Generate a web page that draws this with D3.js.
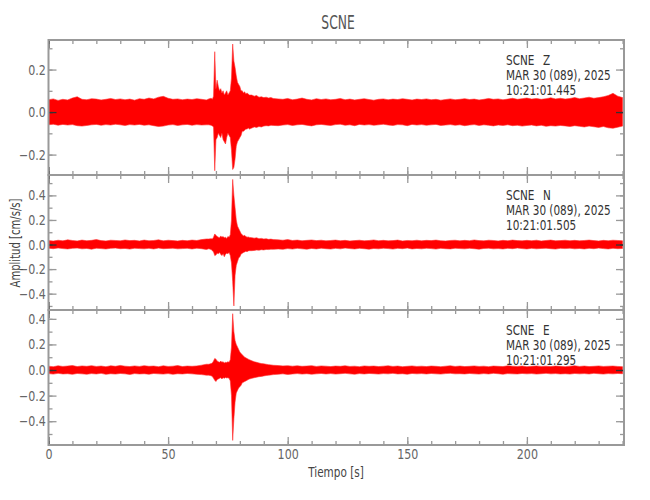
<!DOCTYPE html>
<html>
<head>
<meta charset="utf-8">
<script src="https://cdn.jsdelivr.net/npm/d3@7"></script>
<style>
body{margin:0;background:#fff;}
text{font-family:"Liberation Sans Narrow","DejaVu Sans Condensed","Liberation Sans",sans-serif;}
</style>
</head>
<body>
<script>
const w=650;
const h=500;

// tiempo de cada muestra del envolvente (s)
const tiempo=[0,2,4,6,8,10,12,14,16,18,20,22,24,26,28,30,32,34,36,38,40,42,44,46,48,50,52,54,56,58,60,62,64,66,
  67,68,68.5,69,69.5,70,70.5,71,71.5,72,72.5,73,73.5,74,74.5,75,75.5,76,76.5,77,77.5,78,78.5,79,79.5,80,80.5,81,81.5,82,82.5,83,83.5,84,
  85,86,87,88,89,90,91,92,93,94,
  96,98,100,102,104,106,108,110,112,114,116,118,120,122,124,126,128,130,132,134,136,138,140,142,144,146,148,150,152,154,156,158,160,162,164,166,
  168,170,172,174,176,178,180,182,184,186,188,190,192,194,196,198,200,202,204,206,208,210,212,214,216,218,220,222,224,226,228,230,232,234,236,238,240];

// componente Z: maximo y minimo de la senal (cm/s/s)
const zSup=[.058,.062,.055,.060,.057,.066,.072,.060,.058,.063,.061,.057,.060,.064,.059,.062,.058,.061,.056,.063,.060,.066,.062,.070,.074,.065,.060,.062,.058,.061,.059,.063,.060,.057,
  .062,.065,.060,.075,.284,.110,.150,.120,.100,.110,.090,.100,.080,.090,.100,.080,.090,.100,.160,.320,.240,.210,.170,.140,.130,.120,.100,.100,.090,.095,.085,.090,.085,.080,
  .080,.075,.078,.070,.072,.068,.070,.066,.068,.064,
  .062,.060,.064,.058,.061,.066,.060,.057,.063,.059,.062,.058,.060,.064,.058,.061,.057,.060,.063,.059,.056,.060,.062,.058,.061,.059,.063,.060,.057,.061,
  .059,.062,.058,.060,.056,.059,.062,.058,.060,.063,.059,.061,.057,.060,.064,.060,.062,.058,.061,.065,.060,.063,.066,.061,.064,.060,.063,.067,.062,.065,
  .061,.064,.068,.063,.066,.070,.065,.068,.072,.078,.088,.075,.068];
const zInf=[-.060,-.057,-.062,-.058,-.061,-.059,-.064,-.066,-.063,-.060,-.058,-.062,-.059,-.061,-.057,-.060,-.063,-.059,-.061,-.058,-.062,-.060,-.064,-.068,-.066,-.061,-.059,-.063,-.060,-.058,-.062,-.059,-.061,-.060,
  -.060,-.062,-.065,-.070,-.276,-.130,-.120,-.100,-.110,-.120,-.100,-.130,-.140,-.150,-.120,-.100,-.110,-.120,-.180,-.270,-.260,-.220,-.160,-.140,-.130,-.120,-.110,-.090,-.090,-.085,-.080,-.080,-.075,-.080,
  -.075,-.070,-.072,-.068,-.070,-.066,-.064,-.065,-.062,-.063,
  -.064,-.061,-.059,-.063,-.060,-.058,-.062,-.065,-.060,-.058,-.061,-.063,-.059,-.057,-.062,-.060,-.064,-.058,-.061,-.059,-.062,-.060,-.057,-.061,-.063,-.059,-.060,-.064,-.058,-.061,
  -.059,-.062,-.060,-.058,-.063,-.061,-.059,-.062,-.060,-.064,-.061,-.059,-.063,-.060,-.062,-.065,-.061,-.063,-.060,-.064,-.062,-.066,-.063,-.061,-.065,-.062,-.067,-.064,-.066,-.063,
  -.065,-.068,-.064,-.067,-.070,-.066,-.069,-.072,-.068,-.074,-.076,-.071,-.066];

// componente N
const nSup=[.032,.028,.035,.030,.038,.033,.029,.036,.031,.034,.040,.032,.029,.035,.033,.030,.037,.032,.034,.029,.036,.031,.033,.038,.030,.035,.032,.029,.034,.031,.036,.033,.040,.045,
  .045,.048,.045,.060,.086,.075,.065,.060,.055,.070,.060,.065,.055,.060,.050,.065,.060,.080,.200,.530,.400,.300,.200,.150,.130,.110,.090,.080,.070,.075,.065,.060,.062,.058,
  .056,.052,.055,.048,.050,.045,.047,.042,.044,.040,
  .038,.035,.040,.033,.036,.031,.034,.037,.032,.035,.030,.033,.036,.031,.034,.029,.032,.035,.030,.033,.037,.031,.034,.030,.032,.036,.029,.033,.031,.035,
  .030,.034,.032,.036,.031,.029,.033,.035,.030,.034,.031,.037,.032,.030,.035,.033,.029,.034,.031,.036,.032,.030,.034,.031,.035,.029,.033,.036,.030,.032,
  .035,.031,.034,.030,.033,.036,.032,.029,.034,.031,.035,.033,.030];
const nInf=[-.030,-.034,-.028,-.033,-.036,-.031,-.029,-.035,-.032,-.038,-.030,-.033,-.036,-.031,-.029,-.034,-.032,-.037,-.030,-.033,-.035,-.031,-.036,-.029,-.034,-.032,-.030,-.035,-.033,-.031,-.036,-.030,-.034,-.040,
  -.035,-.040,-.050,-.060,-.090,-.085,-.070,-.075,-.065,-.080,-.090,-.075,-.100,-.080,-.070,-.075,-.065,-.090,-.150,-.300,-.500,-.250,-.170,-.140,-.110,-.100,-.080,-.070,-.065,-.060,-.055,-.058,-.052,-.050,
  -.050,-.048,-.045,-.046,-.042,-.044,-.040,-.041,-.038,-.039,
  -.036,-.039,-.033,-.037,-.031,-.035,-.038,-.032,-.036,-.030,-.034,-.037,-.031,-.035,-.029,-.033,-.036,-.031,-.034,-.038,-.032,-.035,-.030,-.033,-.037,-.031,-.034,-.029,-.036,-.032,
  -.035,-.030,-.033,-.037,-.031,-.034,-.036,-.030,-.033,-.035,-.031,-.034,-.038,-.032,-.030,-.035,-.033,-.036,-.031,-.034,-.029,-.033,-.036,-.031,-.035,-.032,-.030,-.034,-.037,-.031,
  -.033,-.030,-.035,-.032,-.036,-.031,-.034,-.029,-.033,-.036,-.031,-.034,-.032];

// componente E
const eSup=[.030,.026,.033,.028,.031,.035,.027,.032,.029,.034,.028,.031,.026,.033,.029,.036,.030,.027,.032,.028,.034,.029,.031,.026,.033,.028,.030,.035,.027,.031,.029,.032,.038,.045,
  .045,.050,.055,.070,.090,.085,.070,.065,.060,.070,.060,.065,.055,.060,.058,.065,.060,.080,.180,.440,.300,.230,.200,.180,.160,.140,.130,.120,.110,.100,.095,.090,.085,.080,
  .072,.065,.060,.055,.050,.048,.045,.042,.040,.037,
  .035,.032,.034,.030,.033,.029,.031,.034,.028,.032,.030,.027,.031,.029,.033,.028,.030,.026,.032,.029,.031,.027,.030,.033,.028,.031,.026,.029,.032,.028,
  .030,.027,.031,.029,.026,.030,.033,.028,.031,.027,.029,.032,.028,.030,.026,.031,.029,.027,.033,.030,.028,.031,.026,.029,.032,.028,.030,.027,.031,.029,
  .026,.030,.033,.028,.031,.027,.029,.032,.028,.030,.031,.028,.026];
const eInf=[-.028,-.032,-.026,-.031,-.029,-.034,-.027,-.030,-.033,-.028,-.031,-.026,-.034,-.029,-.032,-.027,-.030,-.035,-.028,-.031,-.029,-.033,-.027,-.030,-.032,-.028,-.034,-.029,-.031,-.027,-.030,-.033,-.036,-.040,
  -.040,-.045,-.050,-.065,-.080,-.090,-.075,-.070,-.065,-.060,-.070,-.060,-.065,-.058,-.062,-.060,-.065,-.085,-.200,-.550,-.380,-.250,-.180,-.160,-.140,-.130,-.120,-.100,-.095,-.090,-.085,-.080,-.075,-.070,
  -.065,-.060,-.056,-.052,-.050,-.046,-.043,-.040,-.038,-.036,
  -.033,-.030,-.035,-.031,-.028,-.032,-.029,-.033,-.030,-.027,-.031,-.028,-.032,-.029,-.026,-.030,-.033,-.028,-.031,-.027,-.029,-.032,-.028,-.030,-.026,-.031,-.029,-.033,-.027,-.030,
  -.028,-.031,-.027,-.030,-.032,-.028,-.026,-.030,-.029,-.031,-.027,-.030,-.032,-.028,-.031,-.026,-.029,-.033,-.028,-.030,-.031,-.027,-.030,-.028,-.032,-.029,-.026,-.030,-.028,-.031,
  -.029,-.032,-.027,-.030,-.028,-.031,-.026,-.029,-.032,-.028,-.030,-.027,-.029];

const estacion="SCNE";
const componentes=["Z","N","E"];
const fecha="MAR 30 (089), 2025";
const horas=["10:21:01.445","10:21:01.505","10:21:01.295"];
const dominiosY=[[-0.296,0.339],[-0.533,0.566],[-0.586,0.469]];
const ticksX=[0,50,100,150,200];
const series=[[zSup,zInf],[nSup,nInf],[eSup,eInf]];

const izq=48.5, der=624, arriba=40, alto=135;
const gris="#999", grisTexto="#666";

let svg=d3.select("body")
  .append("svg")
  .attr("width",w)
  .attr("height",h);

// texto estrecho (la fuente original es muy condensada)
function texto(sel,x,y,str,size,sx,color,anchor,rot){
  return sel.append("text")
    .attr("transform","translate("+x+","+y+")"+(rot?" rotate("+rot+")":"")+" scale("+sx+",1)")
    .attr("font-size",size)
    .attr("fill",color)
    .attr("text-anchor",anchor||"start")
    .text(str);
}

let x=d3.scaleLinear()
  .domain([0,240.6])
  .range([izq,der]);

const menoresX=d3.range(0,241,10);
const menoresY=d3.range(-6,7).map(d=>d/10);
const mayoresY=d3.range(-6,7,2).map(d=>d/10);

svg.append("defs").append("clipPath").attr("id","marco")
  .append("rect").attr("x",izq).attr("y",arriba).attr("width",der-izq).attr("height",alto*3);

componentes.forEach((c,i)=>{
  const y0=arriba+i*alto;
  const y=d3.scaleLinear().domain(dominiosY[i]).range([y0+alto,y0]);
  const [sup,inf]=series[i];
  const enRango=v=>v>=dominiosY[i][0]&&v<=dominiosY[i][1];

  // envolvente de la senal
  const area=d3.area()
    .x((d,k)=>x(tiempo[k]))
    .y0((d,k)=>y(inf[k]))
    .y1((d,k)=>y(sup[k]));
  svg.append("path")
    .datum(tiempo)
    .attr("clip-path","url(#marco)")
    .attr("d",area)
    .attr("fill","#ff0000")
    .attr("stroke","#ff3030")
    .attr("stroke-width",0.6);

  // ejes con marcas hacia dentro
  const g=svg.append("g").attr("class","ejes");
  const ejes=[
    [()=>d3.axisLeft(y),"translate("+izq+",0)",menoresY,mayoresY],
    [()=>d3.axisRight(y),"translate("+der+",0)",menoresY,mayoresY],
    [()=>d3.axisTop(x),"translate(0,"+y0+")",menoresX,ticksX],
    [()=>d3.axisBottom(x),"translate(0,"+(y0+alto)+")",menoresX,ticksX]
  ];
  ejes.forEach(([eje,tr,men,may],k)=>{
    const filtro=k<2?men.filter(enRango):men;
    const filtroMay=k<2?may.filter(enRango):may;
    g.append("g").attr("transform",tr)
      .call(eje().tickValues(filtro).tickSize(-4).tickFormat(""));
    const conTexto=(k==0)||(k==3&&i==2);
    g.append("g").attr("transform",tr)
      .call(eje().tickValues(filtroMay).tickSize(-8).tickPadding(k==0?3:4)
        .tickFormat(conTexto?(k==0?d3.format(".1f"):d3.format("d")):""));
  });
  g.selectAll(".domain").remove();
  g.selectAll("line").attr("stroke",gris).attr("stroke-width",1.3);
  g.selectAll(".tick").filter(d=>d===0&&y.domain()[0]<0).select("line").attr("stroke","#333");
  g.selectAll("text").attr("fill",grisTexto).attr("font-size",14).attr("font-family",null)
    .attr("transform","scale(0.88,1)");

  svg.append("rect")
    .attr("x",izq).attr("y",y0)
    .attr("width",der-izq).attr("height",alto)
    .attr("fill","none").attr("stroke",gris).attr("stroke-width",2);

  // rotulos de la estacion
  const lab=svg.append("g");
  texto(lab,506,y0+25,estacion,14,0.83,"#333");
  texto(lab,543,y0+25,c,14,0.83,"#333");
  texto(lab,506,y0+40,fecha,14,0.83,"#333");
  texto(lab,506,y0+55,horas[i],14,0.83,"#333");
});

texto(svg,338,29,estacion,19,0.72,"#555","middle");
texto(svg,336,477,"Tiempo  [s]",14,0.83,"#444","middle");
texto(svg,20,243,"Amplitud  [cm/s/s]",14,0.8,"#444","middle",-90);
</script>
</body>
</html>
